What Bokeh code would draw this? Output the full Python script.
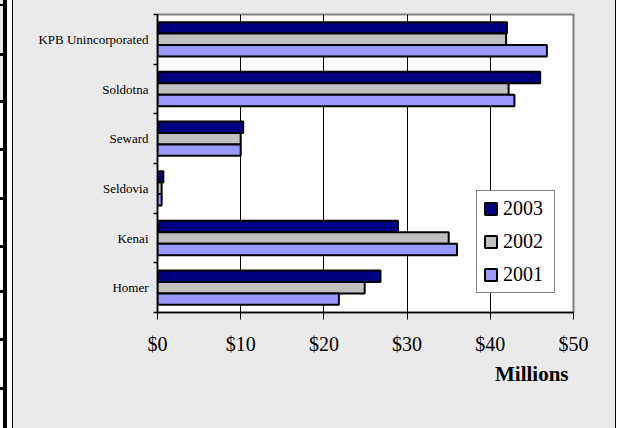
from bokeh.plotting import figure
from bokeh.models import (Range1d, FixedTicker, Legend, LegendItem, Title,
                          ColumnDataSource)
from bokeh.transform import dodge
from bokeh.embed import file_html
from bokeh.resources import INLINE

# ---- data (bottom-to-top order of categories) ----
cities = ["Homer", "Kenai", "Seldovia", "Seward", "Soldotna", "KPB Unincorporated"]
years = ["2003", "2002", "2001"]
s2003 = [26.8, 28.9, 0.7, 10.3, 46.0, 42.0]
s2002 = [24.9, 35.0, 0.5, 10.0, 42.2, 41.9]
s2001 = [21.8, 36.0, 0.5, 10.0, 42.9, 46.8]
x_ticks = [0, 10, 20, 30, 40, 50]
x_tick_labels = ["$0", "$10", "$20", "$30", "$40", "$50"]
x_axis_title = "Millions"
colors = ["#000080", "#C0C0C0", "#9999FF"]

SERIF = "Liberation Serif"
W, H = 619, 428

centers = [i + 0.5 for i in range(len(cities))]
src = ColumnDataSource(dict(city=cities, c=centers,
                            s2003=s2003, s2002=s2002, s2001=s2001))

# page-like background: white strip with rules on the left, grey chart area
stub_ys = [53, 100, 148, 197, 245, 290, 338, 387]
layers = [f"linear-gradient(#000,#000) 0 {y}px / 4px 3px no-repeat" for y in stub_ys]
layers += [
    "linear-gradient(#000,#000) 0 4px / 4px 2px no-repeat",
    "linear-gradient(#000,#000) 3px 0 / 4px 100% no-repeat",
    "linear-gradient(#000,#000) 12px 0 / 1px 100% no-repeat",
    "linear-gradient(#000,#000) 615px 0 / 1px 100% no-repeat",
    "linear-gradient(#EAEAEA,#EAEAEA) 0 0 / 3px 100px no-repeat",
    "linear-gradient(#EAEAEA,#EAEAEA) 13px 0 / 602px 100% no-repeat",
    "#ffffff",
]
bg = ", ".join(layers)

p = figure(width=W, height=H, output_backend="svg", toolbar_location=None,
           x_range=Range1d(0, 50), y_range=Range1d(0, len(cities)),
           min_border_left=157, min_border_right=46,
           min_border_top=14, min_border_bottom=116,
           background_fill_color="white", border_fill_color=None,
           styles={"background": bg})

p.outline_line_color = "#808080"
p.outline_line_width = 2

offsets = [0.23, 0.0, -0.23]
fields = ["s2003", "s2002", "s2001"]
renderers = []
for f, off, col in zip(fields, offsets, colors):
    r = p.hbar(y=dodge("c", off), left=0, right=f, height=0.23, source=src,
               fill_color=col, line_color="black", line_width=2)
    renderers.append(r)

# grid
p.ygrid.visible = False
p.xgrid.grid_line_color = "black"
p.xgrid.grid_line_width = 1
p.xgrid.grid_line_alpha = 1

# x axis
xa = p.xaxis[0]
xa.ticker = FixedTicker(ticks=x_ticks)
xa.major_label_overrides = {t: l for t, l in zip(x_ticks, x_tick_labels)}
xa.major_tick_in = 0
xa.major_tick_out = 7
xa.minor_tick_out = 0
xa.minor_tick_in = 0
xa.axis_line_color = "black"
xa.axis_line_width = 1.5
xa.major_tick_line_color = "black"
xa.major_label_text_font = SERIF
xa.major_label_text_font_size = "20px"
xa.major_label_text_color = "black"
xa.major_label_standoff = 13

# y axis
ya = p.yaxis[0]
ya.ticker = FixedTicker(ticks=centers, minor_ticks=list(range(len(cities) + 1)))
ya.major_label_overrides = {c: n for c, n in zip(centers, cities)}
ya.major_tick_out = 0
ya.major_tick_in = 0
ya.minor_tick_out = 4
ya.minor_tick_in = 0
ya.minor_tick_line_color = "black"
ya.minor_tick_line_width = 1.5
ya.axis_line_color = "black"
ya.axis_line_width = 1.5
ya.major_label_text_font = SERIF
ya.major_label_text_font_size = "13px"
ya.major_label_text_color = "black"
ya.major_label_standoff = 5

# legend
items = [LegendItem(label=y, renderers=[r]) for y, r in zip(years, renderers)]
leg = Legend(items=items, location=(319, 19), orientation="vertical",
             padding=6, spacing=10, glyph_width=15, glyph_height=15,
             label_standoff=5, label_width=45, label_height=22,
             label_text_font=SERIF, label_text_font_size="20px",
             label_text_color="black",
             border_line_color="black", border_line_width=1,
             background_fill_color="white", background_fill_alpha=1)
p.add_layout(leg, "center")

# axis title (right-aligned under the axis)
p.add_layout(Title(text=x_axis_title, align="right", offset=5, standoff=5,
                   text_font=SERIF, text_font_size="21px",
                   text_font_style="bold", text_color="black"), "below")

open("out.html", "w").write(file_html(p, INLINE))
